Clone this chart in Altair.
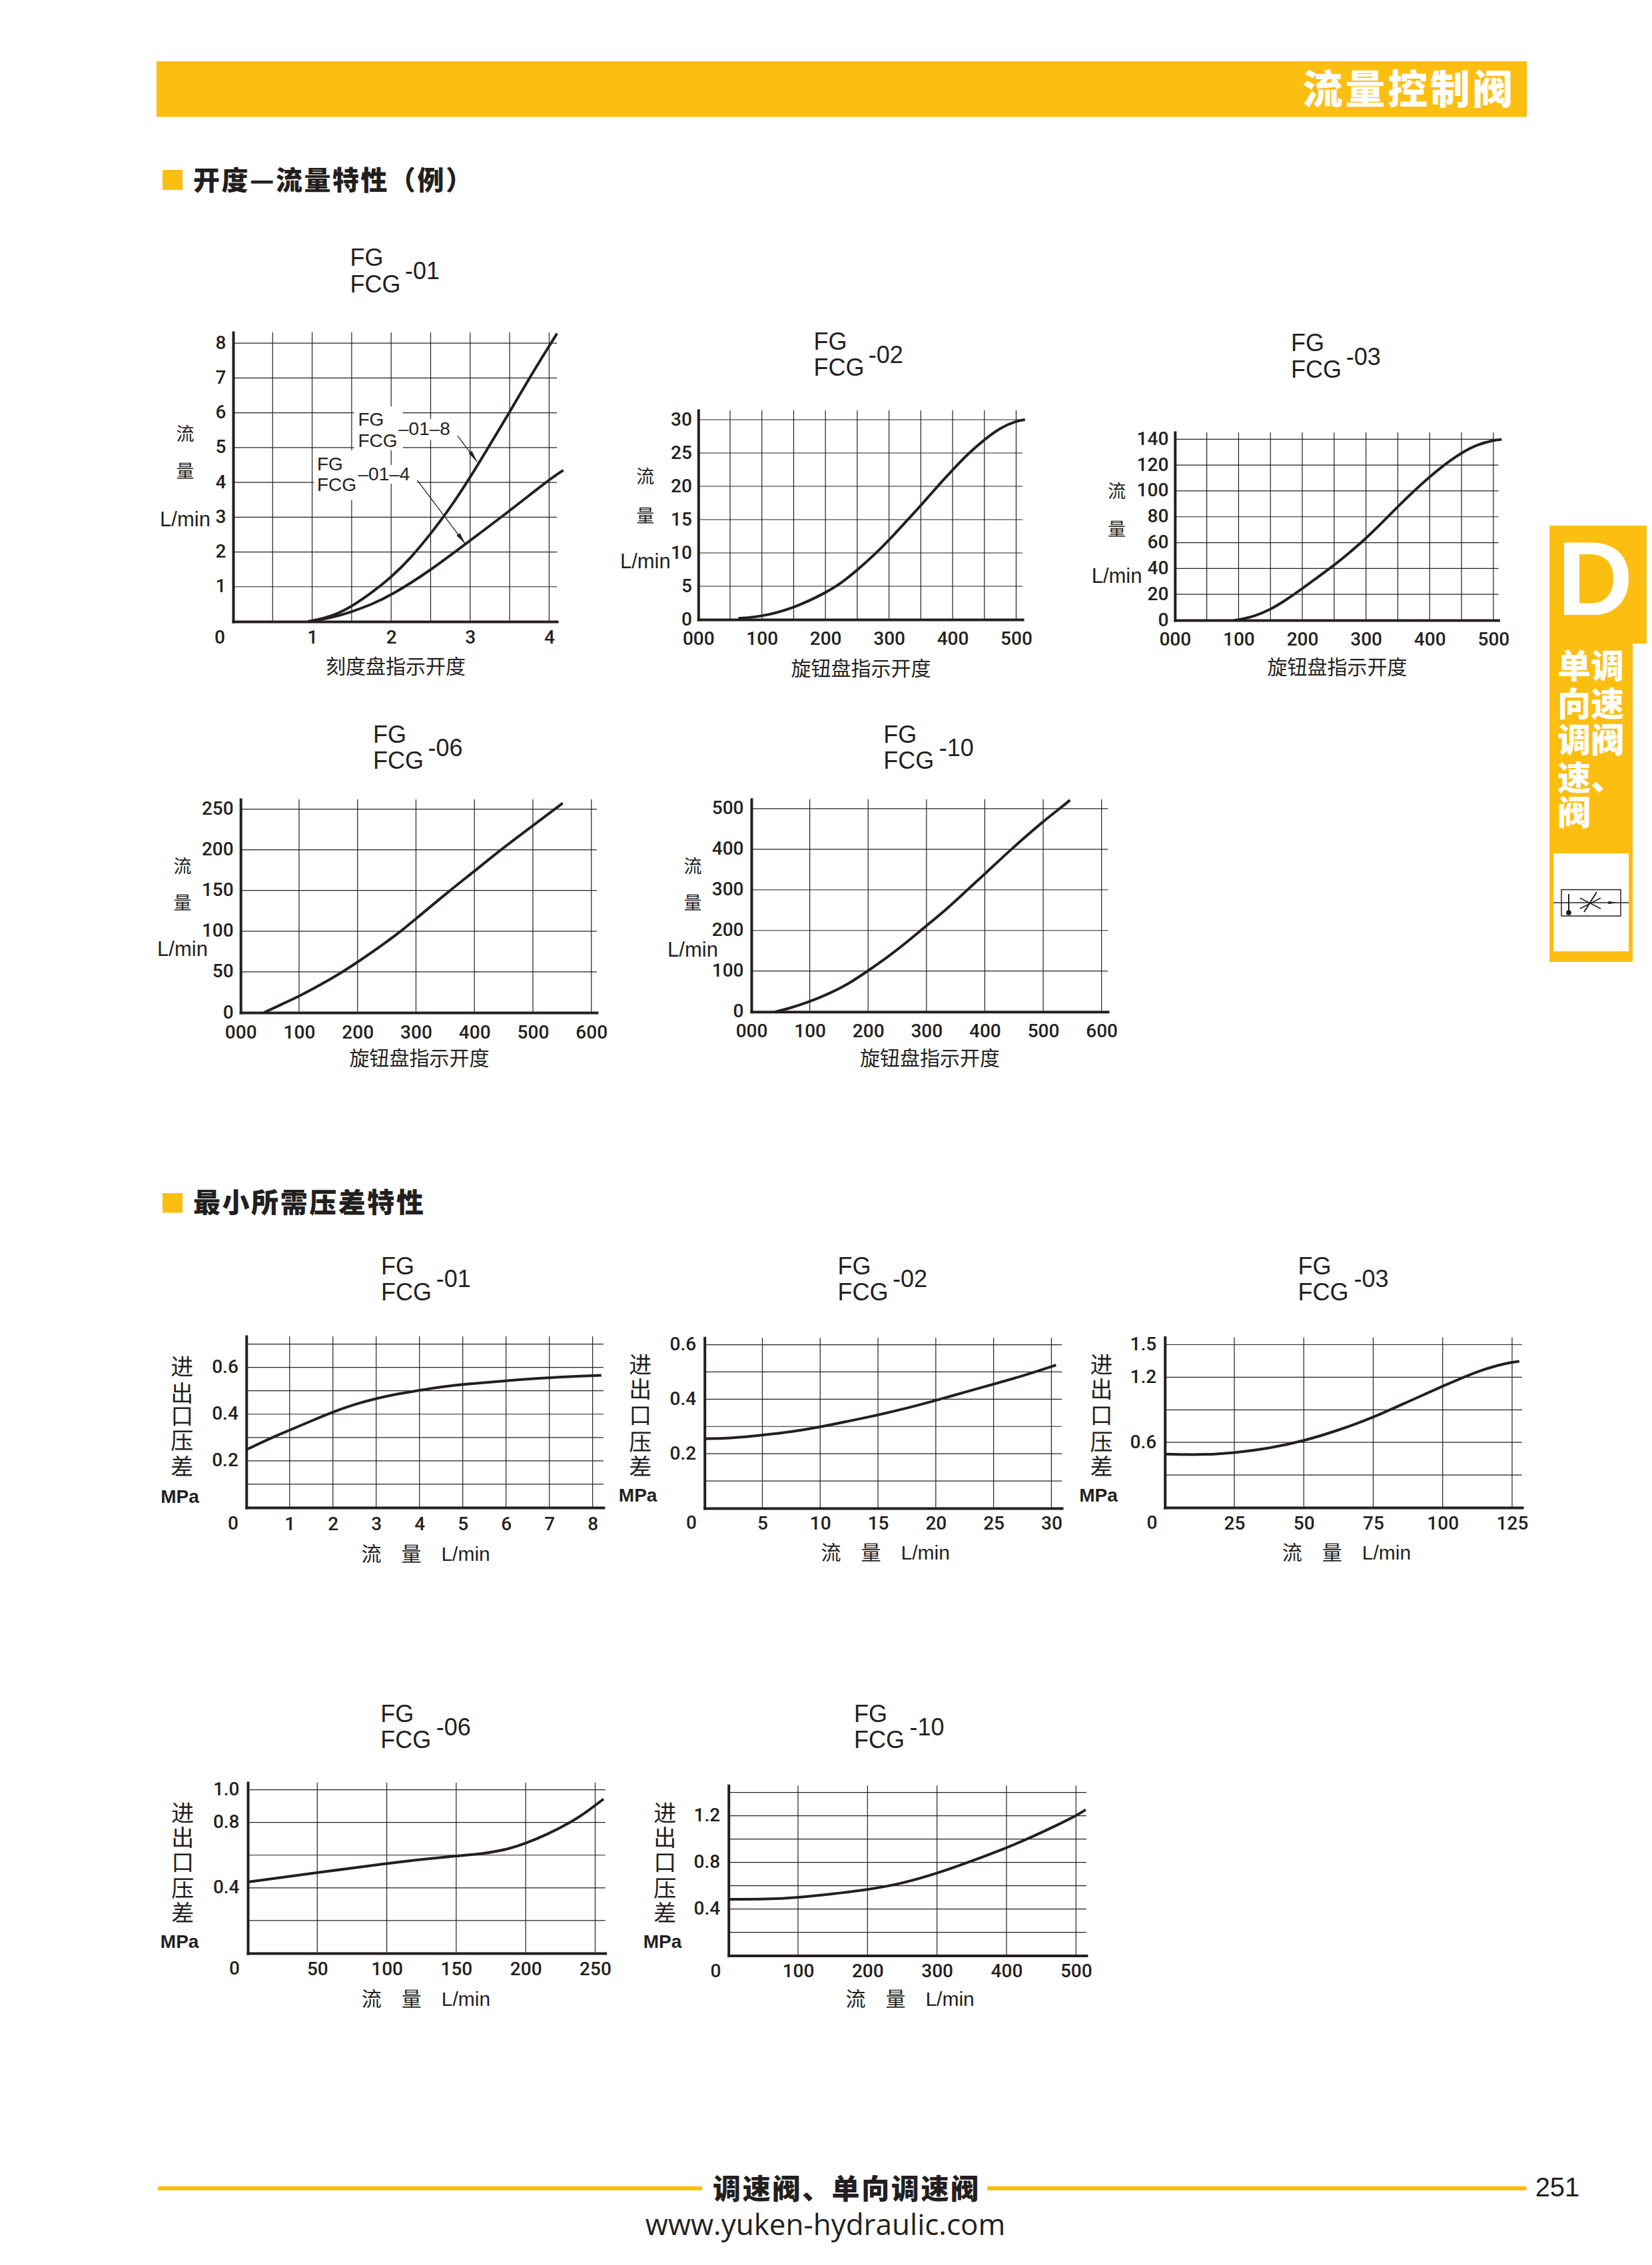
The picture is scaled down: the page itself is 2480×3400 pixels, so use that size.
import altair as alt
import pandas as pd

# ---------- values ----------
A1_X8 = [0.95, 1.25, 1.5, 1.75, 2.0, 2.25, 2.5, 2.75, 3.0, 3.25, 3.5, 3.75, 4.0, 4.1]
A1_Y8 = [0, 0.14, 0.43, 0.82, 1.27, 1.83, 2.52, 3.27, 4.14, 5.08, 6.02, 7.0, 7.92, 8.28]
A1_X4 = [0.95, 1.25, 1.5, 1.75, 2.0, 2.5, 3.0, 3.5, 4.0, 4.18]
A1_Y4 = [0, 0.11, 0.28, 0.49, 0.75, 1.47, 2.33, 3.18, 4.08, 4.35]
A2_X = [63, 100, 151, 200, 225, 251, 279, 300, 332, 350, 375, 400, 426, 450, 474, 500, 514]
A2_Y = [0.18, 0.44, 1.74, 3.99, 5.47, 7.5, 9.9, 11.9, 15.26, 17.1, 19.87, 22.46, 25.05, 27, 28.74, 29.8, 30]
A3_X = [92, 100, 125, 150, 175, 200, 225, 250, 275, 300, 325, 350, 375, 400, 425, 450, 475, 500, 513]
A3_Y = [0, 0.2, 3.0, 8.2, 15.8, 24.5, 33.5, 42.5, 52.6, 63.3, 75.3, 87.9, 99.8, 111, 121, 129.6, 136, 139.2, 139.8]
A4_X = [40, 65, 99.4, 137, 173, 200, 236, 275, 300, 358, 400.5, 446, 499.4, 551]
A4_Y = [0, 8.5, 19.7, 34.2, 49.3, 62, 79.6, 100.2, 115.3, 150, 174, 200.7, 229.4, 257.3]
A5_X = [41, 63, 99.6, 135, 168, 200, 235, 268, 300, 334, 370, 400, 445, 501, 531, 546]
A5_Y = [0, 7.3, 24.2, 45.5, 69.7, 101, 136, 173, 212, 251.5, 300, 339, 400, 470, 503, 521]
B1_X = [0, 0.68, 1, 1.5, 2.01, 2.5, 3, 3.5, 4, 4.5, 5, 6, 7, 8.2]
B1_Y = [0.248, 0.307, 0.331, 0.371, 0.41, 0.442, 0.467, 0.487, 0.502, 0.517, 0.528, 0.543, 0.557, 0.566]
B2_X = [0.08, 2.1, 5, 7.67, 10, 12.4, 15, 17.5, 20, 22.5, 25, 27.5, 30.4]
B2_Y = [0.2555, 0.256, 0.268, 0.281, 0.298, 0.319, 0.342, 0.367, 0.395, 0.426, 0.455, 0.485, 0.525]
B3_X = [0.3, 12.5, 25, 37.5, 50, 62.5, 75, 87.5, 100, 112.5, 120, 125, 127.6]
B3_Y = [0.4926, 0.484, 0.503, 0.545, 0.613, 0.712, 0.828, 0.975, 1.118, 1.255, 1.312, 1.339, 1.347]
B4_X = [0, 50, 100, 125, 150, 169, 187, 200, 215.5, 233, 244, 256]
B4_Y = [0.436, 0.493, 0.549, 0.574, 0.595, 0.608, 0.635, 0.672, 0.726, 0.803, 0.865, 0.943]
B5_X = [1, 56, 100, 148, 200, 250, 301, 346, 400.5, 434, 478, 500, 514]
B5_Y = [0.483, 0.483, 0.498, 0.527, 0.565, 0.618, 0.707, 0.802, 0.925, 1.01, 1.133, 1.2, 1.251]

X_50_500 = [50, 100, 150, 200, 250, 300, 350, 400, 450, 500]
X_LAB_500 = [0, 100, 200, 300, 400, 500]
X_100_600 = [100, 200, 300, 400, 500, 600]
X_LAB_600 = [0, 100, 200, 300, 400, 500, 600]

DIAL = "旋钮盘指示开度"
DIAL_01 = "刻度盘指示开度"
FLOW = "流\u3000量\u3000L/min"

INK = "#231F20"
GOLD = "#FDBE12"
LATIN = "Liberation Sans"
NUM = "Roboto"
CJK = "Noto Sans CJK SC"
MIX = "Liberation Sans, Noto Sans CJK SC"
M = 8
W, H = 2464, 3378


def P(v):
    return v - M


# ---------- page-level pieces ----------
def txt(s, x, y, size=30, weight="normal", font=MIX, align="center", color=INK):
    # CJK glyphs sit a little high on a "middle" baseline
    dy = 0.07 * size if font == CJK else 0
    return alt.Chart().mark_text(
        font=font, fontSize=size, fontWeight=weight, align=align, baseline="middle", color=color
    ).encode(x=alt.value(P(x)), y=alt.value(P(y + dy)), text=alt.value(s))


def box(x, x2, y, y2, fill=GOLD, stroke=None, sw=0):
    kw = dict(fill=fill) if fill else dict(fillOpacity=0)
    if stroke:
        kw.update(stroke=stroke, strokeWidth=sw)
    return alt.Chart().mark_rect(**kw).encode(
        x=alt.value(P(x)), x2=alt.value(P(x2)), y=alt.value(P(y)), y2=alt.value(P(y2))
    )


def seg(x, y, x2, y2, sw=1.5):
    return alt.Chart().mark_rule(color=INK, strokeWidth=sw).encode(
        x=alt.value(P(x)), x2=alt.value(P(x2)), y=alt.value(P(y)), y2=alt.value(P(y2))
    )


HEAD = "M0,-1L0.35,1L-0.35,1Z"


def panel(x0, x1, xmax, y0, y1, ymax, xgrid, ygrid, xlab, ylab, title, title_x, title_y,
          curves, fmt="d", zeros=False, yfmt=None, extra_below=(), extra_above=(), pad_x=29, pad_y=11, fs=28):
    sx = alt.Scale(domain=[0, xmax], range=[P(x0), P(x1)], nice=False, zero=False)
    sy = alt.Scale(domain=[0, ymax], range=[P(y0), P(y1)], nice=False, zero=False)
    common = dict(labelFont=NUM, labelFontWeight=500, labelFontSize=fs, labelColor=INK, labelFlush=False,
                  labelOverlap=False, labelBound=False, grid=False, ticks=False, domainColor=INK,
                  domainWidth=4, domainCap="square")
    xkw = dict(values=xlab, orient="bottom", offset=P(y0) - H, labelBaseline="middle", labelPadding=pad_x,
               format=fmt, title=title, titleX=P(title_x), titleY=title_y - y0, titleFont=MIX,
               titleFontSize=30, titleFontWeight="normal", titleColor=INK, titleAlign="center",
               titleBaseline="middle", **common)
    if zeros:
        xkw["labelExpr"] = "datum.value === 0 ? '000' : datum.label"
    xaxis = alt.Axis(**xkw)
    yaxis = alt.Axis(values=ylab, orient="left", offset=-P(x0), labelPadding=pad_y, format=yfmt or "d",
                     title=None, **common)
    vg = pd.DataFrame({"v": xgrid, "lo": 0.0, "hi": ymax})
    hg = pd.DataFrame({"v": ygrid, "lo": 0.0, "hi": xmax})
    layers = [
        alt.Chart(vg).mark_rule(color=INK, strokeWidth=1.2).encode(
            x=alt.X("v:Q", scale=sx, axis=xaxis), y=alt.Y("lo:Q", scale=sy, axis=yaxis), y2="hi:Q"),
        alt.Chart(hg).mark_rule(color=INK, strokeWidth=1.2).encode(
            y=alt.Y("v:Q", scale=sy, axis=None), x=alt.X("lo:Q", scale=sx, axis=None), x2="hi:Q"),
    ]
    for build in extra_below:
        layers.append(build(sx, sy))
    for cx, cy in curves:
        layers.append(alt.Chart(pd.DataFrame({"x": cx, "y": cy})).mark_line(
            color=INK, strokeWidth=4, interpolate="basis").encode(
            x=alt.X("x:Q", scale=sx, axis=None), y=alt.Y("y:Q", scale=sy, axis=None), order="x:Q"))
    for build in extra_above:
        layers.append(build(sx, sy))
    return layers


def mask(xa, xb, ya, yb):
    def f(sx, sy):
        d = pd.DataFrame({"a": [xa], "b": [xb], "c": [ya], "e": [yb]})
        return alt.Chart(d).mark_rect(fill="white").encode(
            x=alt.X("a:Q", scale=sx, axis=None), x2="b:Q", y=alt.Y("c:Q", scale=sy, axis=None), y2="e:Q")
    return f


def leader(xs, ys):
    def f(sx, sy):
        return alt.Chart(pd.DataFrame({"x": xs, "y": ys})).mark_line(color=INK, strokeWidth=1.3).encode(
            x=alt.X("x:Q", scale=sx, axis=None), y=alt.Y("y:Q", scale=sy, axis=None), order="x:Q")
    return f


def head(x, y, angle):
    def f(sx, sy):
        return alt.Chart(pd.DataFrame({"x": [x], "y": [y]})).mark_point(
            shape=HEAD, filled=True, size=324, angle=angle, color=INK, opacity=1).encode(
            x=alt.X("x:Q", scale=sx, axis=None), y=alt.Y("y:Q", scale=sy, axis=None))
    return f


layers = []
# page furniture
layers += [box(235, 2292, 92, 175.5)]
layers += [box(244, 274, 255, 285), box(244, 274, 1791, 1820.5)]
layers += [box(2326, 2472, 789, 966), box(2326, 2451, 966, 1444), box(2332, 2445, 1281, 1428, fill="white")]
layers += [box(237, 1054, 3281.7, 3288), box(1482, 2291.5, 3281.7, 3288)]

# panels
layers += panel(350, 836, 4.098, 933, 499, 8.31, [0.5, 1, 1.5, 2, 2.5, 3, 3.5, 4], [1, 2, 3, 4, 5, 6, 7, 8],
                [1, 2, 3, 4], [1, 2, 3, 4, 5, 6, 7, 8], DIAL_01, 593.5, 1001,
                [(A1_X8, A1_Y8), (A1_X4, A1_Y4)], pad_x=24.5,
                extra_below=[mask(1.53, 2.15, 4.92, 6.18), mask(2.15, 2.84, 5.22, 5.82),
                             mask(1.02, 1.57, 3.49, 4.92), mask(1.57, 2.33, 3.96, 4.5)],
                extra_above=[leader([2.84, 3.09], [5.34, 4.59]), head(3.045, 4.73, 144),
                             leader([2.33, 2.94], [4.06, 2.23]), head(2.895, 2.37, 143)])
layers += panel(1048.3, 1535, 510, 930, 616, 31.4, X_50_500, [5, 10, 15, 20, 25, 30], X_LAB_500,
                [0, 5, 10, 15, 20, 25, 30], DIAL, 1292, 1004.6, [(A2_X, A2_Y)], zeros=True, pad_y=10)
layers += panel(1763.8, 2249.5, 508, 931, 649, 145.3, X_50_500, [20, 40, 60, 80, 100, 120, 140], X_LAB_500,
                [0, 20, 40, 60, 80, 100, 120, 140], DIAL, 2007, 1002.7, [(A3_X, A3_Y)], zeros=True, pad_y=10)
layers += panel(361.2, 895.9, 609.3, 1520, 1200, 261.9, X_100_600, [50, 100, 150, 200, 250], X_LAB_600,
                [0, 50, 100, 150, 200, 250], DIAL, 629, 1589.8, [(A4_X, A4_Y)], zeros=True, pad_x=30)
layers += panel(1128, 1663, 610.7, 1518.7, 1199.8, 523, X_100_600, [100, 200, 300, 400, 500], X_LAB_600,
                [0, 100, 200, 300, 400, 500], DIAL, 1395.6, 1589.8, [(A5_X, A5_Y)], zeros=True, pad_x=30, pad_y=12)
layers += panel(369.8, 905.9, 8.25, 2263, 2006, 0.733, [1, 2, 3, 4, 5, 6, 7, 8],
                [0.1, 0.2, 0.3, 0.4, 0.5, 0.6, 0.7], [1, 2, 3, 4, 5, 6, 7, 8], [0.2, 0.4, 0.6], FLOW, 638.6, 2333.4,
                [(B1_X, B1_Y)], yfmt=".1f", pad_x=25, pad_y=12.5)
layers += panel(1057.7, 1594, 30.9, 2264, 2008.3, 0.625, [5, 10, 15, 20, 25, 30],
                [0.1, 0.2, 0.3, 0.4, 0.5, 0.6], [5, 10, 15, 20, 25, 30], [0.2, 0.4, 0.6], FLOW, 1328.7, 2331,
                [(B2_X, B2_Y)], yfmt=".1f", pad_x=23, pad_y=13)
layers += panel(1748.7, 2285, 128.6, 2263, 2007.6, 1.567, [25, 50, 75, 100, 125],
                [0.3, 0.6, 0.9, 1.2, 1.5], [25, 50, 75, 100, 125], [0.6, 1.2, 1.5], FLOW, 2021, 2331,
                [(B3_X, B3_Y)], yfmt=".1f", pad_x=24, pad_y=13)
layers += panel(372, 908.7, 257.3, 2932, 2676, 1.043, [50, 100, 150, 200, 250],
                [0.2, 0.4, 0.6, 0.8, 1.0], [50, 100, 150, 200, 250], [0.4, 0.8, 1.0], FLOW, 639, 3001,
                [(B4_X, B4_Y)], yfmt=".1f", pad_x=24, pad_y=13)
layers += panel(1093.7, 1630.9, 515, 2935.6, 2680.2, 1.459, [100, 200, 300, 400, 500],
                [0.2, 0.4, 0.6, 0.8, 1.0, 1.2, 1.4], [100, 200, 300, 400, 500], [0.4, 0.8, 1.2], FLOW, 1365.6, 3001,
                [(B5_X, B5_Y)], yfmt=".1f", pad_x=24, pad_y=13)

# headings
SP = "\u200a"
layers += [
    txt(SP.join("流量控制阀"), 2113, 134, 60, 900, CJK, color="white"),
    txt(SP.join("开度—流量特性（例）"), 290, 270, 40, 900, CJK, align="left"),
    txt(SP.join("最小所需压差特性"), 290, 1805.5, 41, 900, CJK, align="left"),
]

# panel titles: (left x, FG y, FCG y, suffix x, suffix y, suffix)
TITLES = [
    (525.4, 387.5, 427.5, 608, 408, "-01"), (1221.4, 513.7, 553.2, 1303.8, 533.6, "-02"),
    (1937.9, 516.2, 555.8, 2020.7, 536.6, "-03"), (560, 1103.7, 1143.2, 642.4, 1123.6, "-06"),
    (1326.3, 1103.7, 1143.2, 1409.7, 1123.6, "-10"), (571.9, 1901.6, 1941, 654.8, 1921.3, "-01"),
    (1257.5, 1901.5, 1941.3, 1340, 1920.7, "-02"), (1948.4, 1901.5, 1941.3, 2032.4, 1921.4, "-03"),
    (571.2, 2574, 2613, 654.8, 2594, "-06"), (1282, 2574, 2613, 1365.5, 2594, "-10"),
]
for lx, fy, cy, sx_, sy_, suf in TITLES:
    layers += [txt("FG", lx, fy, 36, font=LATIN, align="left"), txt("FCG", lx, cy, 36, font=LATIN, align="left"),
               txt(suf, sx_, sy_, 36, font=LATIN, align="left")]

# y side labels, upper group
for x, a, b, c in [(278, 651, 707.5, 780.6), (968.8, 715, 774, 843.7), (1676.6, 737, 793.7, 865.9),
                   (274, 1300.5, 1354.9, 1426), (1040, 1300.5, 1354.9, 1427.4)]:
    layers += [txt("流", x, a, 27, font=CJK), txt("量", x, b, 27, font=CJK), txt("L/min", x, c, 31, font=LATIN)]

# y side labels, lower group
for x, ys, mx, my in [(273.3, (2051.8, 2091.4, 2126, 2163, 2202), 270, 2248.3),
                      (961.3, (2048.4, 2085.5, 2124.7, 2164.5, 2201.6), 957.6, 2246.4),
                      (1653.6, (2048.4, 2085.5, 2124.7, 2164.5, 2201.6), 1649, 2246.4),
                      (274.2, (2721.7, 2758.9, 2796, 2834.5, 2871.6), 269.6, 2916.4),
                      (998.2, (2721.7, 2758.9, 2796, 2834.5, 2871.6), 994.5, 2916.4)]:
    for ch, y in zip("进出口压差", ys):
        layers.append(txt(ch, x, y, 34, font=CJK))
    layers.append(txt("MPa", mx, my, 28, "bold", LATIN))

# displaced zero labels
for x, y in [(330, 957.5), (350, 2288), (1038, 2287), (1729.4, 2287), (352, 2956), (1074.4, 2959.5)]:
    layers.append(txt("0", x, y, 28, 500, font=NUM))

# annotations in first chart
layers += [
    txt("FG", 537.5, 631.3, 28, font=LATIN, align="left"), txt("FCG", 537.5, 662.5, 28, font=LATIN, align="left"),
    txt("–01–8", 598, 645, 28, font=LATIN, align="left"),
    txt("FG", 476, 698, 28, font=LATIN, align="left"), txt("FCG", 476, 729.4, 28, font=LATIN, align="left"),
    txt("–01–4", 537.5, 712.5, 28, font=LATIN, align="left"),
]

# side tab
layers.append(txt("D", 2394.5, 876, 158, "bold", LATIN, color="white"))
for ch, y in zip("单向调速阀", (999, 1056, 1110.7, 1167, 1219.4)):
    layers.append(txt(ch, 2363, y, 50, 900, CJK, color="white"))
for ch, y in zip("调速阀、", (999, 1056, 1110.7, 1167)):
    layers.append(txt(ch, 2413, y, 50, 900, CJK, color="white"))
layers += [
    box(2344, 2433, 1335.4, 1375, fill=None, stroke=INK, sw=1.5),
    seg(2332, 1355, 2445, 1355), seg(2355, 1342, 2355, 1369, 2),
    seg(2372, 1348, 2403, 1364), seg(2372, 1364, 2403, 1348), seg(2378, 1369, 2397, 1339, 2),
    alt.Chart().mark_point(shape="circle", filled=True, size=60, color=INK, opacity=1).encode(
        x=alt.value(P(2355)), y=alt.value(P(1370))),
    alt.Chart().mark_point(shape=HEAD, filled=True, size=170, angle=90, color=INK, opacity=1).encode(
        x=alt.value(P(2421)), y=alt.value(P(1355))),
]

# footer
layers += [
    txt(SP.join("调速阀、单向调速阀"), 1269.5, 3285, 42, 900, CJK),
    txt("251", 2338, 3285, 40, font=LATIN),
    txt("www.yuken-hydraulic.com", 1239, 3342, 44, font="Open Sans"),
]

chart = alt.layer(*layers).resolve_scale(x="independent", y="independent").resolve_axis(
    x="independent", y="independent"
).properties(width=W, height=H, padding=0, background="white",
             autosize=alt.AutoSizeParams(type="none")).configure_view(stroke=None)

chart.save("out.html", embed_options={"renderer": "svg", "actions": False})
